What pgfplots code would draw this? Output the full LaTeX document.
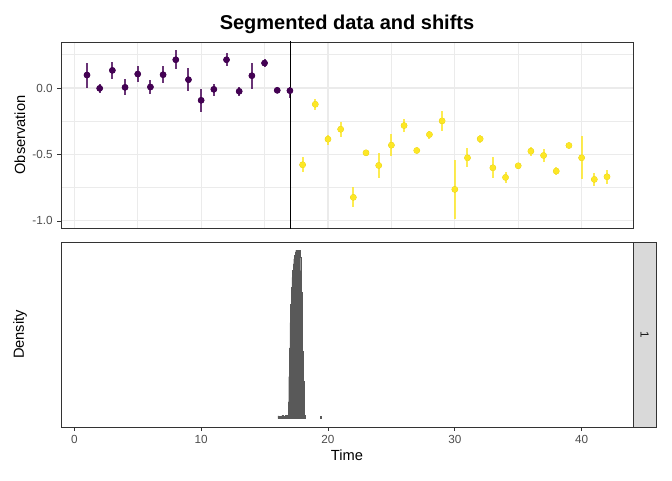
\documentclass[border=0pt]{standalone}
\usepackage{pgfplots}
\usepackage{pgfplotstable}
\pgfplotsset{compat=1.18}
\usepackage{fontspec}
\setmainfont{Liberation Sans}
\definecolor{purp}{HTML}{440154}
\definecolor{yell}{HTML}{FDE725}
\definecolor{histc}{RGB}{89,89,89}
\definecolor{grid92}{RGB}{235,235,235}
\definecolor{grey20}{RGB}{51,51,51}
\definecolor{grey30}{RGB}{77,77,77}
\definecolor{grey85}{RGB}{217,217,217}

\pgfplotstableread{
t y ep em
1 0.0975 0.0925 0.095
2 -0.0025 0.03 0.035
3 0.1325 0.065 0.065
4 0.005 0.0625 0.0575
5 0.105 0.0625 0.0625
6 0.0075 0.05 0.05
7 0.10 0.0625 0.0625
8 0.2125 0.07 0.07
9 0.0625 0.085 0.085
10 -0.0925 0.0875 0.09
11 -0.01 0.0425 0.0475
12 0.2125 0.05 0.05
13 -0.025 0.0325 0.0325
14 0.0925 0.0975 0.1025
15 0.1875 0.0275 0.03
16 -0.0175 0.0125 0.0125
17 -0.02 0.03 0.0525
}\purpdata

\pgfplotstableread{
t y ep em
18 -0.5775 0.055 0.0575
19 -0.1225 0.04 0.0425
20 -0.385 0.0325 0.0425
21 -0.31 0.0575 0.0575
22 -0.8225 0.08 0.075
23 -0.4875 0.015 0.015
24 -0.5825 0.095 0.095
25 -0.43 0.085 0.085
26 -0.2825 0.0475 0.05
27 -0.47 0.012 0.012
28 -0.35 0.03 0.0325
29 -0.2475 0.0775 0.075
30 -0.7625 0.2225 0.225
31 -0.525 0.075 0.0725
32 -0.3825 0.03 0.0325
33 -0.60 0.08 0.0775
34 -0.6725 0.04 0.04
35 -0.585 0.012 0.012
36 -0.475 0.03 0.035
37 -0.5075 0.05 0.05
38 -0.625 0.03 0.03
39 -0.4325 0.012 0.012
40 -0.525 0.1625 0.16
41 -0.6875 0.0475 0.05
42 -0.6675 0.0525 0.055
}\yelldata

\begin{document}
\begin{tikzpicture}
\path[use as bounding box] (0,0) rectangle (504pt,360pt);
% top panel
\begin{axis}[
  at={(45.75pt,189pt)}, anchor=south west, scale only axis,
  width=429pt, height=139.5pt,
  xmin=-1.05, xmax=44.05, ymin=-1.053, ymax=0.346,
  xtick={0,10,20,30,40}, minor xtick={5,15,25,35}, xticklabels={},
  ytick={-1,-0.5,0}, yticklabels={-1.0,-0.5,0.0},
  minor ytick={-0.75,-0.25,0.25},
  grid=both,
  major grid style={draw=grid92, line width=0.8pt},
  minor grid style={draw=grid92, line width=0.4pt},
  tick align=outside, ytick pos=left, xtick pos=bottom,
  xtick style={draw=none},
  minor tick length=0pt, major tick length=2.75pt,
  ytick style={draw=grey20, line width=0.6pt},
  axis line style={draw=grey20, line width=0.6pt},
  ticklabel style={font=\fontsize{8.8}{10}\selectfont, text=grey30},
  /pgf/number format/assume math mode=true,
]
\addplot[only marks, mark=none, forget plot,
  error bars/.cd, y dir=both, y explicit, error mark=none,
  error bar style={draw=purp, line width=1.5pt, opacity=0.8}]
  table[x=t, y=y, y error plus=ep, y error minus=em] {\purpdata};
\addplot[only marks, mark=none, forget plot,
  error bars/.cd, y dir=both, y explicit, error mark=none,
  error bar style={draw=yell, line width=1.5pt, opacity=0.8}]
  table[x=t, y=y, y error plus=ep, y error minus=em] {\yelldata};
\addplot[black, line width=0.75pt] coordinates {(17.05,-1.2) (17.05,0.5)};
\addplot[only marks, mark=*, mark size=2.3pt, draw=purp, fill=purp] table[x=t, y=y] {\purpdata};
\addplot[only marks, mark=*, mark size=2.3pt, draw=yell, fill=yell] table[x=t, y=y] {\yelldata};
\end{axis}
% bottom panel
\begin{axis}[
  at={(45.75pt,39.75pt)}, anchor=south west, scale only axis,
  width=429pt, height=138.75pt,
  xmin=-1.05, xmax=44.05, ymin=-0.05, ymax=1.05,
  xtick={0,10,20,30,40}, ytick=\empty,
  tick align=outside, xtick pos=bottom,
  major tick length=2.75pt,
  xtick style={draw=grey20, line width=0.6pt},
  axis line style={draw=grey20, line width=0.6pt},
  ticklabel style={font=\fontsize{8.8}{10}\selectfont, text=grey30},
  /pgf/number format/assume math mode=true,
]
\addplot[fill=histc, draw=histc, line width=0.2pt, const plot] coordinates {
(16.05,0.016) (16.15,0.014) (16.25,0.014) (16.35,0.018) (16.45,0.016) (16.55,0.014) (16.65,0.02) (16.75,0.016)
(16.85,0.10) (16.90,0.25) (16.95,0.42) (17.00,0.57) (17.05,0.68) (17.10,0.78) (17.15,0.84) (17.20,0.88)
(17.25,0.92) (17.30,0.95) (17.35,0.97) (17.40,0.99) (17.45,1.00) (17.50,0.98) (17.55,1.00) (17.60,0.97)
(17.65,1.00) (17.70,0.99) (17.75,1.00) (17.80,0.96) (17.85,0.88) (17.90,0.75) (17.95,0.58) (18.00,0.40)
(18.05,0.22) (18.10,0.08) (18.15,0.02) (18.20,0)
} \closedcycle;
\addplot[fill=histc, draw=histc, line width=0.2pt, const plot] coordinates {
(19.40,0.012) (19.48,0.012)
} \closedcycle;
\end{axis}
% strip
\draw[fill=grey85, draw=grey20, line width=0.6pt] (474.75pt,39.75pt) rectangle (492pt,178.5pt);
\node[rotate=-90, font=\fontsize{8.8}{10}\selectfont, text=black!90] at (483.4pt,109.1pt) {1};
% labels
\node[font=\bfseries\fontsize{15}{18}\selectfont] at (260.25pt,342pt) {Segmented data and shifts};
\node[rotate=90, font=\fontsize{11}{13}\selectfont] at (15pt,258.75pt) {Observation};
\node[rotate=90, font=\fontsize{11}{13}\selectfont] at (15pt,109.1pt) {Density};
\node[font=\fontsize{11}{13}\selectfont] at (260.25pt,18.2pt) {Time};
\end{tikzpicture}
\end{document}
